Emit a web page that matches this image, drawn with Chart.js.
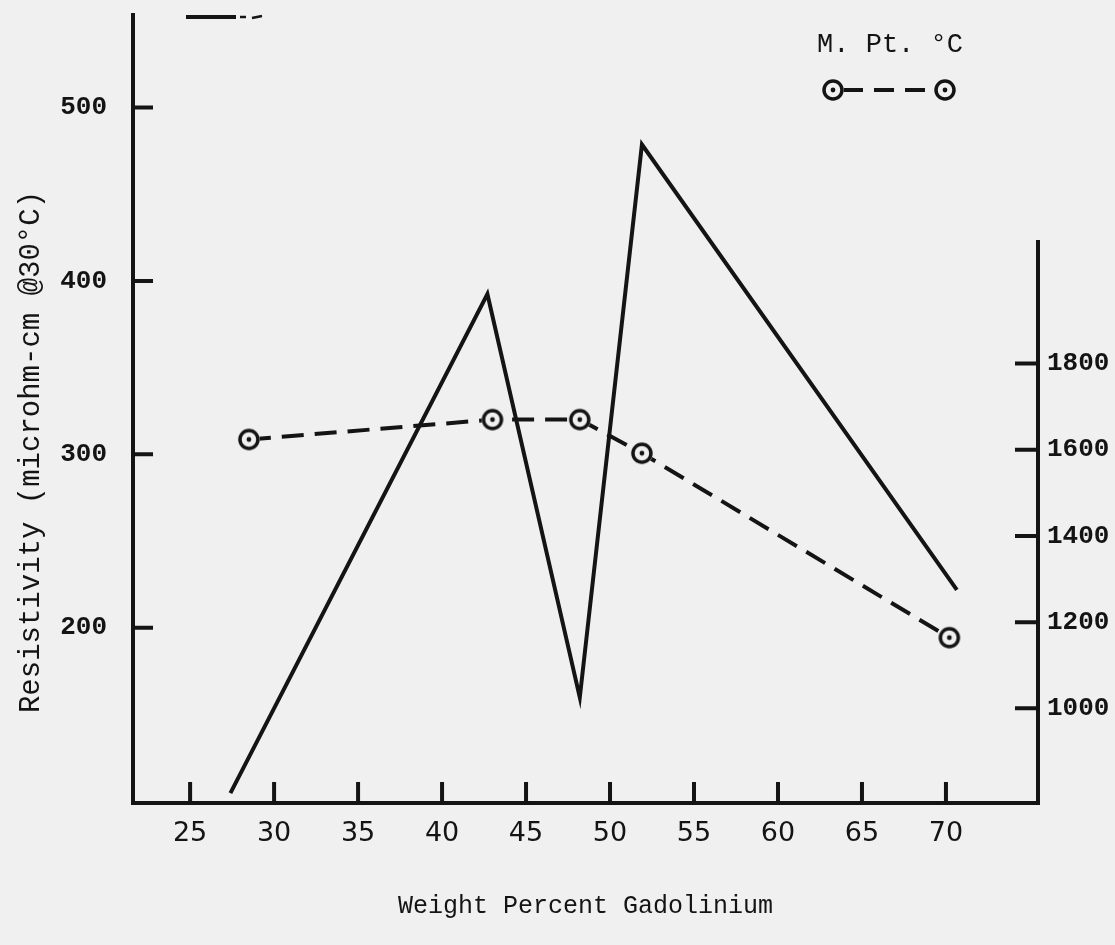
<!DOCTYPE html>
<html>
<head>
<meta charset="utf-8">
<script src="https://cdn.jsdelivr.net/npm/chart.js@4.4.0/dist/chart.umd.min.js"></script>
<style>
  html, body { margin: 0; padding: 0; background: #f0f0f0; }
  #wrap { width: 1115px; height: 945px; position: relative; }
</style>
</head>
<body>
<div id="wrap"><canvas id="chart" width="1115" height="945"></canvas></div>
<script>
// Resistivity (solid line, left axis)
const resistX = [27.4, 42.7, 48.2, 51.9, 70.65];
const resistY = [104.6, 392.5, 159.8, 478.7, 221.8];

// Melting point (dashed line with ringed points, right axis)
const meltX = [28.5, 43.0, 48.2, 51.9, 70.2];
const meltY = [1624, 1670, 1670, 1592, 1164];

// Tick labels
const xTicks = [25, 30, 35, 40, 45, 50, 55, 60, 65, 70];
const leftTicks = [200, 300, 400, 500];
const rightTicks = [1000, 1200, 1400, 1600, 1800];

const INK = '#141414';
const PAPER = '#f0f0f0';
const RIGHT_AXIS_TOP = 2082;

// Ring with centre dot used as the point marker
function makeRing() {
    const c = document.createElement('canvas');
    c.width = 26; c.height = 26;
    const g = c.getContext('2d');
    g.fillStyle = PAPER;
    g.beginPath(); g.arc(13, 13, 11, 0, Math.PI * 2); g.fill();
    g.strokeStyle = INK; g.lineWidth = 3.5;
    g.beginPath(); g.arc(13, 13, 9, 0, Math.PI * 2); g.stroke();
    g.fillStyle = INK;
    g.beginPath(); g.arc(13, 13, 2.4, 0, Math.PI * 2); g.fill();
    return c;
}
const ring = makeRing();

// Axes, inward ticks, rotated y title and the legend drawn by hand
const paperAxes = {
    id: 'paperAxes',
    afterDraw(chart) {
        const { ctx, chartArea: a, scales } = chart;
        ctx.save();
        ctx.strokeStyle = INK;
        ctx.lineWidth = 4;
        ctx.lineCap = 'square';

        ctx.beginPath();
        ctx.moveTo(a.left, a.top);
        ctx.lineTo(a.left, a.bottom);
        ctx.lineTo(a.right, a.bottom);
        ctx.moveTo(a.right, scales.y1.getPixelForValue(RIGHT_AXIS_TOP));
        ctx.lineTo(a.right, a.bottom);
        ctx.stroke();

        ctx.lineCap = 'butt';
        ctx.beginPath();
        xTicks.forEach(v => {
            const px = scales.x.getPixelForValue(v);
            ctx.moveTo(px, a.bottom);
            ctx.lineTo(px, a.bottom - 21);
        });
        leftTicks.forEach(v => {
            const py = scales.y.getPixelForValue(v);
            ctx.moveTo(a.left, py);
            ctx.lineTo(a.left + 20, py);
        });
        rightTicks.forEach(v => {
            const py = scales.y1.getPixelForValue(v);
            ctx.moveTo(a.right, py);
            ctx.lineTo(a.right - 23, py);
        });
        ctx.stroke();

        // stray pen mark at the top
        ctx.beginPath();
        ctx.moveTo(186, 17); ctx.lineTo(236, 17);
        ctx.stroke();
        ctx.lineWidth = 2.5;
        ctx.beginPath();
        ctx.moveTo(240, 17); ctx.lineTo(246, 17);
        ctx.moveTo(252, 18); ctx.lineTo(262, 16);
        ctx.stroke();

        // y axis title
        ctx.fillStyle = INK;
        ctx.font = '29px "Liberation Mono", monospace';
        ctx.textAlign = 'center';
        ctx.textBaseline = 'middle';
        ctx.save();
        ctx.translate(31, 452);
        ctx.rotate(-Math.PI / 2);
        ctx.fillText('Resistivity (microhm-cm @30°C)', 0, 0);
        ctx.restore();

        // legend
        ctx.font = '27px "Liberation Mono", monospace';
        ctx.fillText('M. Pt. °C', 890, 45);
        ctx.lineWidth = 4;
        ctx.setLineDash([20, 11]);
        ctx.beginPath();
        ctx.moveTo(843, 90); ctx.lineTo(935, 90);
        ctx.stroke();
        ctx.setLineDash([]);
        ctx.drawImage(ring, 833 - 13, 90 - 13);
        ctx.drawImage(ring, 945 - 13, 90 - 13);
        ctx.restore();
    }
};

const monoTick = { family: '"Liberation Mono", monospace', size: 26, weight: 'bold' };
const plainLabel = v => String(v);

new Chart(document.getElementById('chart'), {
    type: 'line',
    data: {
        datasets: [
            {
                label: 'Resistivity',
                data: resistX.map((x, i) => ({ x: x, y: resistY[i] })),
                yAxisID: 'y',
                borderColor: INK,
                borderWidth: 4,
                pointRadius: 0,
                tension: 0
            },
            {
                label: 'M. Pt. °C',
                data: meltX.map((x, i) => ({ x: x, y: meltY[i] })),
                yAxisID: 'y1',
                borderColor: INK,
                borderWidth: 4,
                borderDash: [22, 11],
                pointStyle: ring,
                pointRadius: 11,
                tension: 0
            }
        ]
    },
    options: {
        responsive: false,
        animation: false,
        devicePixelRatio: 1,
        layout: { padding: { top: 12, left: 0, right: 0, bottom: 0 } },
        plugins: { legend: { display: false }, tooltip: { enabled: false } },
        scales: {
            x: {
                type: 'linear',
                position: 'bottom',
                min: 21.6,
                max: 75.48,
                afterBuildTicks: s => { s.ticks = xTicks.map(v => ({ value: v })); },
                afterFit: s => { s.height = 142; s.paddingLeft = 0; s.paddingRight = 0; },
                grid: { display: false },
                border: { display: false },
                ticks: {
                    color: INK,
                    font: { family: '"DejaVu Sans", sans-serif', size: 27 },
                    padding: 7,
                    autoSkip: false,
                    maxRotation: 0,
                    callback: plainLabel
                },
                title: {
                    display: true,
                    text: 'Weight Percent Gadolinium',
                    color: INK,
                    font: { family: '"Liberation Mono", monospace', size: 25 },
                    padding: { top: 0, bottom: 24 }
                }
            },
            y: {
                type: 'linear',
                position: 'left',
                min: 98.9,
                max: 553.4,
                afterBuildTicks: s => { s.ticks = leftTicks.map(v => ({ value: v })); },
                afterFit: s => { s.width = 133; s.paddingTop = 0; s.paddingBottom = 0; },
                grid: { display: false },
                border: { display: false },
                ticks: { color: INK, font: monoTick, padding: 18, callback: plainLabel }
            },
            y1: {
                type: 'linear',
                position: 'right',
                min: 780.3,
                max: 2609,
                afterBuildTicks: s => { s.ticks = rightTicks.map(v => ({ value: v })); },
                afterFit: s => { s.width = 77; s.paddingTop = 0; s.paddingBottom = 0; },
                grid: { display: false },
                border: { display: false },
                ticks: { color: INK, font: monoTick, padding: 1, callback: plainLabel }
            }
        }
    },
    plugins: [paperAxes]
});
</script>
</body>
</html>
